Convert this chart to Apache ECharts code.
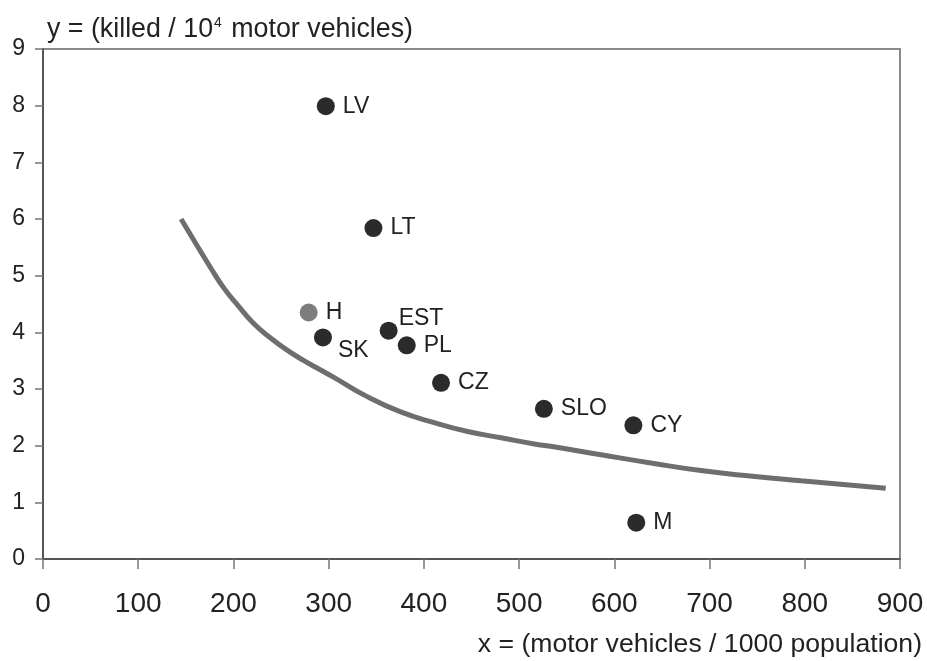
<!DOCTYPE html>
<html>
<head>
<meta charset="utf-8">
<script src="https://cdn.jsdelivr.net/npm/echarts@6/dist/echarts.min.js"></script>
<style>
  html, body { margin: 0; padding: 0; background: #fff; }
  #chart { width: 927px; height: 661px; }
</style>
</head>
<body>
<div id="chart"></div>
<script>
// countries: vehicles per 1000 population vs killed per 10^4 vehicles
const countries = ["LV", "LT", "H", "SK", "EST", "PL", "CZ", "SLO", "CY", "M"];
const vehicles = [297, 347, 279, 294, 363, 382, 418, 526, 620, 623];
const killed = [7.99, 5.84, 4.35, 3.91, 4.03, 3.77, 3.11, 2.65, 2.36, 0.64];

// fitted curve
const curveX = [145, 160, 176, 190, 204, 221, 239, 256, 274, 291, 305, 340, 375, 410, 446, 481, 516, 533, 586, 640, 691, 745, 796, 885];
const curveY = [6.0, 5.58, 5.14, 4.78, 4.49, 4.16, 3.9, 3.69, 3.5, 3.34, 3.21, 2.87, 2.6, 2.41, 2.25, 2.14, 2.03, 1.99, 1.84, 1.69, 1.56, 1.46, 1.38, 1.25];

const xTicks = [0, 100, 200, 300, 400, 500, 600, 700, 800, 900];
const yTicks = [0, 1, 2, 3, 4, 5, 6, 7, 8, 9];

const font = "'Liberation Sans', Arial, Helvetica, sans-serif";

// label tweaks for the crowded points
const labelOffsets = {
  SK: [-2, 13],
  EST: [-7, -12],
};

const chart = echarts.init(document.getElementById("chart"));

const points = countries.map((c, i) => {
  const item = {
    name: c,
    value: [vehicles[i], killed[i]],
  };
  if (c === "H") {
    item.itemStyle = { color: "#7d7d7d" };
  }
  if (labelOffsets[c]) {
    item.label = { offset: labelOffsets[c] };
  }
  return item;
});

chart.setOption({
  animation: false,
  backgroundColor: "#ffffff",
  grid: {
    left: 43,
    right: 27,
    top: 49,
    bottom: 102,
    show: true,
    borderColor: "#8a8a8a",
    borderWidth: 2,
  },
  xAxis: {
    type: "value",
    min: xTicks[0],
    max: xTicks[xTicks.length - 1],
    interval: 100,
    splitLine: { show: false },
    axisLine: { lineStyle: { color: "#555", width: 2 } },
    axisTick: { length: 10, lineStyle: { color: "#777", width: 1.5 } },
    axisLabel: {
      margin: 31,
      fontFamily: font,
      fontSize: 28,
      color: "#222",
    },
  },
  yAxis: {
    type: "value",
    min: yTicks[0],
    max: yTicks[yTicks.length - 1],
    interval: 1,
    splitLine: { show: false },
    axisLine: { lineStyle: { color: "#555", width: 2 } },
    axisTick: { length: 8, lineStyle: { color: "#777", width: 1.5 } },
    axisLabel: {
      margin: 18,
      fontFamily: font,
      fontSize: 23,
      color: "#222",
    },
  },
  graphic: [
    {
      type: "text",
      left: 47,
      top: 16,
      style: {
        text: "y = (killed / 10{sup|4} motor vehicles)",
        fontFamily: font,
        fontSize: 26.8,
        fill: "#222",
        rich: {
          sup: {
            fontFamily: font,
            fontSize: 14,
            verticalAlign: "top",
            padding: [0, 2, 10, 1],
            fill: "#222",
          },
        },
      },
    },
    {
      type: "text",
      right: 5,
      top: 631,
      style: {
        text: "x = (motor vehicles / 1000 population)",
        fontFamily: font,
        fontSize: 26.6,
        fill: "#222",
      },
    },
  ],
  series: [
    {
      type: "line",
      data: curveX.map((x, i) => [x, curveY[i]]),
      smooth: true,
      showSymbol: false,
      lineStyle: { color: "#6e6e6e", width: 5 },
      z: 2,
    },
    {
      type: "scatter",
      data: points,
      symbolSize: 18,
      itemStyle: { color: "#2b2b2b", opacity: 1 },
      label: {
        show: true,
        position: "right",
        distance: 8,
        formatter: "{b}",
        fontFamily: font,
        fontSize: 23,
        color: "#222",
      },
      z: 3,
    },
  ],
});

window.onresize = function () {
  chart.resize();
};
</script>
</body>
</html>
